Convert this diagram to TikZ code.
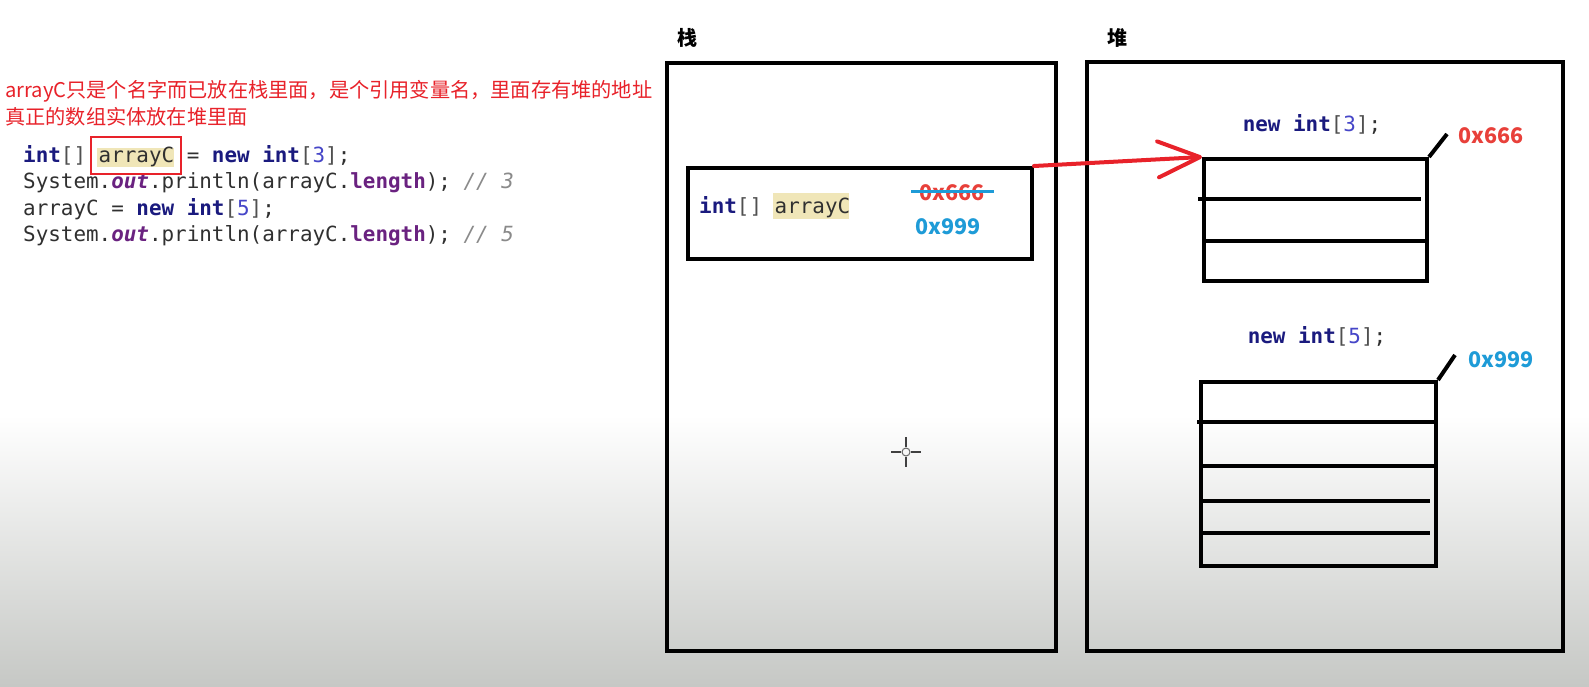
\documentclass[tikz,border=0pt]{standalone}
\usepackage{fontspec}
\setmonofont{DejaVu Sans Mono}
\newfontfamily\cjk{Noto Sans CJK SC}
\usetikzlibrary{arrows.meta}
\definecolor{kw}{HTML}{1A1A7E}
\definecolor{num}{HTML}{4646C8}
\definecolor{brk}{HTML}{505050}
\definecolor{txt}{HTML}{303030}
\definecolor{pu}{HTML}{6A2280}
\definecolor{cm}{HTML}{8A8A8A}
\definecolor{hl}{HTML}{F0E6B8}
\definecolor{redc}{HTML}{E8222A}
\definecolor{addr}{HTML}{E8403A}
\definecolor{bluec}{HTML}{1E9BD7}
\definecolor{bgbot}{HTML}{C6C8C5}
\newcommand{\kwd}[1]{{\bfseries\color{kw}#1}}
\newcommand{\nm}[1]{{\color{num}#1}}
\newcommand{\bk}[1]{{\color{brk}#1}}
\newcommand{\pf}[1]{{\bfseries\color{pu}#1}}
\newcommand{\pfi}[1]{{\bfseries\itshape\color{pu}#1}}
\newcommand{\cmt}[1]{{\itshape\color{cm}#1}}
\begin{document}
\begin{tikzpicture}[x=1pt,y=-1pt,
  code/.style={inner sep=0pt, text=txt, font=\ttfamily\fontsize{20.9pt}{25pt}\selectfont},
  memory/.style={draw=black, line width=4pt, anchor=north west, inner sep=0pt},
  cell/.style={draw=black, line width=4pt},
  heading/.style={inner sep=0pt, font=\cjk\bfseries\fontsize{20pt}{24pt}\selectfont},
  addrlbl/.style={inner sep=0pt, font=\cjk\bfseries\fontsize{21.5pt}{24pt}\selectfont},
  note/.style={inner sep=0pt, anchor=west, text=redc, font=\cjk\fontsize{20.2pt}{24pt}\selectfont},
  ref/.style={draw=redc, line width=4pt, line cap=round, line join=round,
    -{Straight Barb[length=42pt,width=36pt,round]}}
]
% background
\useasboundingbox (0,0) rectangle (1589,686);
\fill[white] (0,0) rectangle (1589,416);
\shade[top color=white, bottom color=bgbot] (0,415) rectangle (1589,686);

% explanatory red note
\node[note] (n1) at (5,91.7) {arrayC只是个名字而已放在栈里面，是个引用变量名，里面存有堆的地址};
\node[note] (n2) at (5,116.7) {真正的数组实体放在堆里面};

% code
\fill[hl] (97,148) rectangle (174,167);
\node[code, anchor=base west] (l1) at (23,162) {\kwd{int}\bk{[]} arrayC = \kwd{new} \kwd{int}\bk{[}\nm{3}\bk{]};};
\node[code, anchor=base west] (l2) at (23,188.5) {System.\pfi{out}.println(arrayC.\pf{length}); \cmt{// 3}};
\node[code, anchor=base west] (l3) at (23,215) {arrayC = \kwd{new} \kwd{int}\bk{[}\nm{5}\bk{]};};
\node[code, anchor=base west] (l4) at (23,241) {System.\pfi{out}.println(arrayC.\pf{length}); \cmt{// 5}};
\node[draw=redc, line width=1.8pt, minimum width=90pt, minimum height=37pt, anchor=north west, inner sep=0pt] (rbox) at (90,136) {};

% stack and heap
\node[heading] (stackT) at (687,38) {栈};
\node[heading] (heapT) at (1117,38) {堆};
\node[memory, minimum width=389pt, minimum height=588pt] (stack) at (665,61) {};
\node[memory, minimum width=476pt, minimum height=589pt] (heap) at (1085,60) {};

% variable in stack
\node[memory, minimum width=344pt, minimum height=91pt] (var) at (686,166) {};
\fill[hl] (773,193) rectangle (849,219);
\node[code, anchor=base west] (vartxt) at (699,213) {\kwd{int}\bk{[]} arrayC};
\node[addrlbl, text=addr] (old) at (952,193) {0x666};
\draw[bluec, line width=3pt] (911,191.5) -- (994,191.5);
\node[addrlbl, text=bluec] (new) at (948,227) {0x999};

% array 1
\node[code, anchor=base] (new3) at (1312,131) {\kwd{new} \kwd{int}\bk{[}\nm{3}\bk{]};};
\node[memory, minimum width=223pt, minimum height=122pt] (arr1) at (1202,157) {};
\draw[cell] (1198,199) -- (1421,199);
\draw[cell] (1202,241) -- (1425,241);
\coordinate (d1) at (1447,134);
\draw[cell] (arr1.north east) -- (d1);
\node[addrlbl, text=addr] (a1) at (1491,136) {0x666};

% array 2
\node[code, anchor=base] (new5) at (1317,343) {\kwd{new} \kwd{int}\bk{[}\nm{5}\bk{]};};
\node[memory, minimum width=235pt, minimum height=184pt] (arr2) at (1199,380) {};
\draw[cell] (1197,422) -- (1434,422);
\draw[cell] (1199,466) -- (1434,466);
\draw[cell] (1199,501) -- (1430,501);
\draw[cell] (1199,533) -- (1430,533);
\coordinate (d2) at (1455,355);
\draw[cell] (arr2.north east) -- (d2);
\node[addrlbl, text=bluec] (a2) at (1501,360) {0x999};

% reference arrow
\draw[ref] (var.north east) -- (arr1.north west);

% mouse cursor
\draw[black!75, line width=1.6pt] (906,437) -- (906,447) (906,457) -- (906,467) (891,452) -- (901,452) (911,452) -- (921,452);
\draw[black!60, line width=1pt] (906,452) circle (4);
\end{tikzpicture}
\end{document}
